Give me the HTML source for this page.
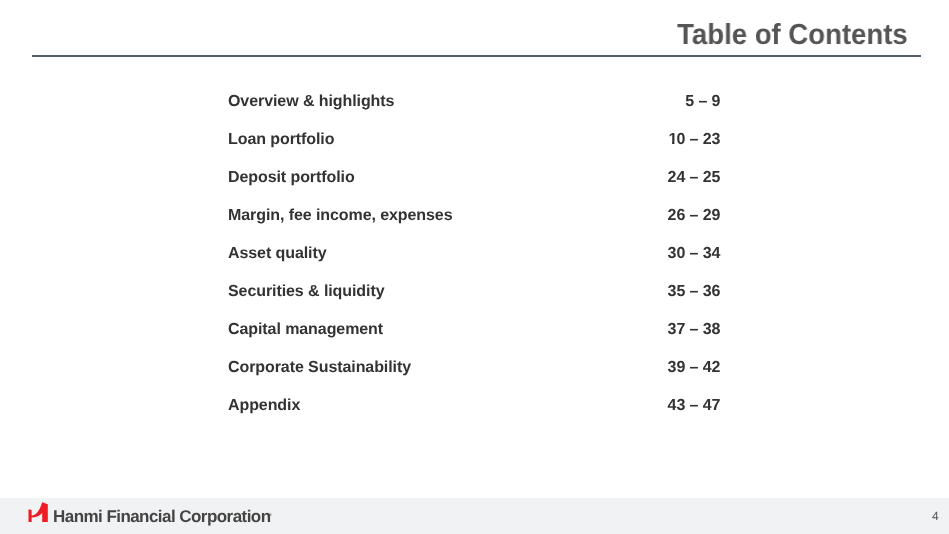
<!DOCTYPE html>
<html>
<head>
<meta charset="utf-8">
<style>
html,body{margin:0;padding:0;}
body{width:949px;height:534px;position:relative;overflow:hidden;background:#ffffff;font-family:"Liberation Sans",sans-serif;text-rendering:geometricPrecision;}
.title{position:absolute;right:41.7px;top:16.6px;font-size:29px;font-weight:bold;color:#555555;white-space:nowrap;line-height:36px;transform:scaleX(0.95);transform-origin:right center;}
.rule{position:absolute;left:32px;top:55px;width:889px;height:2px;background:#525e6a;}
.row{position:absolute;left:228.4px;width:493px;font-size:16px;font-weight:bold;color:#333333;line-height:20px;white-space:nowrap;letter-spacing:-0.08px;}
.row .l{position:absolute;left:0;top:0;}
.row .r{position:absolute;right:0.6px;top:0;}
.footer{position:absolute;left:0;top:498px;width:949px;height:36px;background:#f1f2f4;}
.brand{position:absolute;left:53px;top:507px;font-size:17px;font-weight:bold;color:#444444;white-space:nowrap;line-height:20px;letter-spacing:-0.55px;}
.pnum{position:absolute;left:932px;top:508px;font-size:12px;color:#555555;line-height:16px;}
.reg{position:absolute;left:269px;top:512px;font-size:4px;line-height:5px;color:#444;}
.one{display:inline-block;position:relative;left:0.9px;clip-path:polygon(0 0,9px 0,9px 11.8px,6px 11.8px,6px 20px,3.6px 20px,3.6px 11.8px,0 11.8px);}
.logo{position:absolute;left:24px;top:498px;}
.title,.row,.brand,.pnum{will-change:transform;}
</style>
</head>
<body>
<div class="title">Table of Contents</div>
<div class="rule"></div>

<div class="row" style="top:92px"><span class="l">Overview &amp; highlights</span><span class="r">5 – 9</span></div>
<div class="row" style="top:130px"><span class="l">Loan portfolio</span><span class="r"><span class="one">1</span>0 – 23</span></div>
<div class="row" style="top:168px"><span class="l">Deposit portfolio</span><span class="r">24 – 25</span></div>
<div class="row" style="top:206px"><span class="l">Margin, fee income, expenses</span><span class="r">26 – 29</span></div>
<div class="row" style="top:244px"><span class="l">Asset quality</span><span class="r">30 – 34</span></div>
<div class="row" style="top:282px"><span class="l">Securities &amp; liquidity</span><span class="r">35 – 36</span></div>
<div class="row" style="top:320px"><span class="l">Capital management</span><span class="r">37 – 38</span></div>
<div class="row" style="top:358px"><span class="l">Corporate Sustainability</span><span class="r">39 – 42</span></div>
<div class="row" style="top:396px"><span class="l">Appendix</span><span class="r">43 – 47</span></div>

<div class="footer"></div>
<svg class="logo" width="30" height="28" viewBox="0 0 30 28">
  <path d="M4.5 11.2 L7.6 12.1 L7.6 17.6 C11.5 17.4 15.5 13.5 18.2 4.25 L23.8 6.3 L23.8 24 L18.2 24 L18.2 15 C15.5 18 11.5 19.5 7.6 19.5 L7.6 24 L4.5 24 Z" fill="#ee1c25"/>
</svg>
<div class="brand">Hanmi Financial Corporation</div>
<div class="reg">&reg;</div>
<div class="pnum">4</div>
</body>
</html>
